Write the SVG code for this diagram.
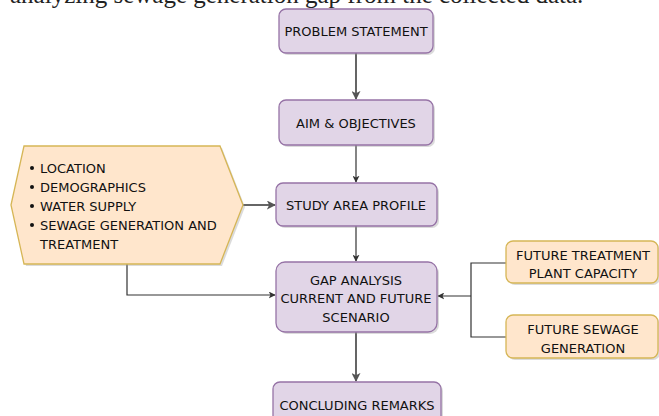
<svg xmlns="http://www.w3.org/2000/svg" width="659" height="416" viewBox="0 0 659 416">
<defs>
<style>
.p{fill:#e1d5e7;stroke:#9673a6;stroke-width:1.3}
.o{fill:#ffe6cc;stroke:#d6b656;stroke-width:1.3}
.t{font-family:"DejaVu Sans",Verdana,sans-serif;font-size:13px;fill:#111;text-anchor:middle}
.l{font-family:"DejaVu Sans",Verdana,sans-serif;font-size:13px;fill:#111}
.c{fill:none;stroke:#333;stroke-width:1.2}
.c2{fill:none;stroke:#555;stroke-width:1.8}
.sh{fill:#999;opacity:0.35}
</style>
<marker id="a" viewBox="0 0 10 10" refX="9" refY="5" markerWidth="7" markerHeight="7" orient="auto" markerUnits="userSpaceOnUse"><path d="M0,0 L10,5 L0,10 L2.5,5 Z" fill="#333"/></marker>
<marker id="b" viewBox="0 0 10 10" refX="9" refY="5" markerWidth="9" markerHeight="9" orient="auto" markerUnits="userSpaceOnUse"><path d="M0,0 L10,5 L0,10 L2.5,5 Z" fill="#555"/></marker>
</defs>
<rect width="659" height="416" fill="#fff"/>
<text x="10" y="3" font-family="Liberation Serif, serif" font-size="25" fill="#222">analyzing sewage generation gap from the collected data.</text>
<g id="connectors">
<line class="c2" x1="356" y1="53" x2="356" y2="99" marker-end="url(#b)"/>
<line class="c" x1="356" y1="145" x2="356" y2="182" marker-end="url(#a)"/>
<line class="c2" x1="243" y1="205" x2="275" y2="205" marker-end="url(#b)"/>
<line class="c" x1="356" y1="226" x2="356" y2="261" marker-end="url(#a)"/>
<polyline class="c" points="127,264 127,295 275,295" marker-end="url(#a)"/>
<line class="c2" x1="356" y1="332" x2="356" y2="381" marker-end="url(#b)"/>
<polyline class="c" points="506,263 471,263 471,337 506,337"/>
<line class="c" x1="471" y1="296" x2="438" y2="296" marker-end="url(#a)"/>
</g>
<g id="problem">
<rect class="sh" x="281" y="11" width="154" height="44" rx="7"/>
<rect class="p" x="279" y="9" width="154" height="44" rx="7"/>
<text class="t" x="356" y="36">PROBLEM STATEMENT</text>
</g>
<g id="aim">
<rect class="sh" x="281" y="102" width="154" height="45" rx="7"/>
<rect class="p" x="279" y="100" width="154" height="45" rx="7"/>
<text class="t" x="356" y="128">AIM &amp; OBJECTIVES</text>
</g>
<g id="study">
<rect class="sh" x="278" y="185" width="161" height="43" rx="7"/>
<rect class="p" x="276" y="183" width="161" height="43" rx="7"/>
<text class="t" x="356" y="210">STUDY AREA PROFILE</text>
</g>
<g id="gap">
<rect class="sh" x="278" y="264" width="161" height="70" rx="9"/>
<rect class="p" x="276" y="262" width="161" height="70" rx="9"/>
<text class="t" x="356" y="285">GAP ANALYSIS</text>
<text class="t" x="356" y="303">CURRENT AND FUTURE</text>
<text class="t" x="356" y="322">SCENARIO</text>
</g>
<g id="concluding">
<rect class="sh" x="275" y="384" width="168" height="50" rx="7"/>
<rect class="p" x="273" y="382" width="168" height="50" rx="7"/>
<text class="t" x="357" y="410">CONCLUDING REMARKS</text>
</g>
<g id="profile">
<polygon class="sh" points="13,207 26,148 222,148 245,207 222,266 26,266"/>
<polygon class="o" points="11,205 24,146 220,146 243,205 220,264 24,264"/>
<circle cx="32" cy="168" r="2" fill="#111"/>
<circle cx="32" cy="187" r="2" fill="#111"/>
<circle cx="32" cy="206" r="2" fill="#111"/>
<circle cx="32" cy="225" r="2" fill="#111"/>
<text class="l" x="40" y="173">LOCATION</text>
<text class="l" x="40" y="192">DEMOGRAPHICS</text>
<text class="l" x="40" y="211">WATER SUPPLY</text>
<text class="l" x="40" y="230">SEWAGE GENERATION AND</text>
<text class="l" x="40" y="249">TREATMENT</text>
</g>
<g id="treatment">
<rect class="sh" x="508" y="243" width="152" height="42" rx="7"/>
<rect class="o" x="506" y="241" width="152" height="42" rx="7"/>
<text class="t" x="583" y="260">FUTURE TREATMENT</text>
<text class="t" x="583" y="278">PLANT CAPACITY</text>
</g>
<g id="sewage">
<rect class="sh" x="508" y="317" width="152" height="43" rx="7"/>
<rect class="o" x="506" y="315" width="152" height="43" rx="7"/>
<text class="t" x="583" y="334">FUTURE SEWAGE</text>
<text class="t" x="583" y="353">GENERATION</text>
</g>
</svg>
